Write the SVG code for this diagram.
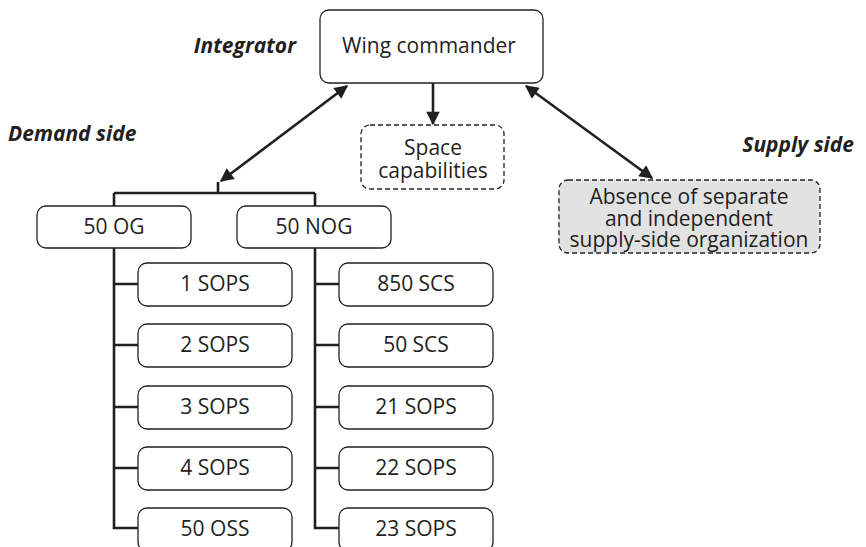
<svg xmlns="http://www.w3.org/2000/svg" width="866" height="547" viewBox="0 0 866 547">
<defs>
<marker id="ah" viewBox="0 0 10 10" refX="9" refY="5" markerWidth="6" markerHeight="5.2" markerUnits="strokeWidth" orient="auto-start-reverse">
<path d="M0,0 L10,5 L0,10 z" fill="#231f20"/>
</marker>
<style>
.box{fill:#fff;stroke:#231f20;stroke-width:1.3}
.dash{stroke-dasharray:5 3}
.gray{fill:#e2e2e2}
.t{font-family:"Open Sans","Noto Sans",sans-serif;font-size:21px;fill:#231f20;text-anchor:middle}
.lab{font-family:"Open Sans","Noto Sans",sans-serif;font-size:21px;font-weight:bold;font-style:italic;fill:#231f20}
.ln{stroke:#231f20;stroke-width:2.6;fill:none}
</style>
</defs>
<rect width="866" height="547" fill="#fff"/>
<g id="labels">
<text class="lab" x="296" y="53" text-anchor="end">Integrator</text>
<text class="lab" x="8" y="141">Demand side</text>
<text class="lab" x="854" y="152" text-anchor="end">Supply side</text>
</g>
<g id="connectors">
<line class="ln" x1="433" y1="83" x2="433" y2="124" marker-end="url(#ah)"/>
<line class="ln" x1="347" y1="86" x2="221" y2="181" marker-start="url(#ah)" marker-end="url(#ah)"/>
<line class="ln" x1="526" y1="86" x2="652" y2="178" marker-start="url(#ah)" marker-end="url(#ah)"/>
<path class="ln" d="M218,182 V193 M114,193 H315 M114,193 V528 H138 M315,193 V528 H339"/>
<path class="ln" d="M114,284 H138 M114,345 H138 M114,407 H138 M114,468 H138 M315,284 H339 M315,345 H339 M315,407 H339 M315,468 H339"/>
</g>
<g id="wing"><rect class="box" x="320" y="10" width="223" height="73" rx="9"/><text class="t" x="429" y="53" font-size="22.5">Wing commander</text></g>
<g id="space"><rect class="box dash" x="361" y="125" width="143" height="64" rx="9"/><text class="t" x="433" y="155">Space</text><text class="t" x="433" y="178">capabilities</text></g>
<g id="absence"><rect class="box dash gray" x="559" y="180" width="261" height="73" rx="9"/><text class="t" x="689" y="204">Absence of separate</text><text class="t" x="689" y="226">and independent</text><text class="t" x="689" y="247">supply-side organization</text></g>
<g id="og"><rect class="box" x="37" y="206" width="154" height="42" rx="9"/><text class="t" x="114" y="234">50 OG</text></g>
<g id="nog"><rect class="box" x="237" y="206" width="154" height="42" rx="9"/><text class="t" x="314" y="234">50 NOG</text></g>
<g id="sops1"><rect class="box" x="138" y="263" width="154" height="43" rx="9"/><text class="t" x="215" y="291">1 SOPS</text></g>
<g id="sops2"><rect class="box" x="138" y="324" width="154" height="43" rx="9"/><text class="t" x="215" y="352">2 SOPS</text></g>
<g id="sops3"><rect class="box" x="138" y="386" width="154" height="43" rx="9"/><text class="t" x="215" y="414">3 SOPS</text></g>
<g id="sops4"><rect class="box" x="138" y="447" width="154" height="43" rx="9"/><text class="t" x="215" y="475">4 SOPS</text></g>
<g id="oss50"><rect class="box" x="138" y="508" width="154" height="43" rx="9"/><text class="t" x="215" y="536">50 OSS</text></g>
<g id="scs850"><rect class="box" x="339" y="263" width="154" height="43" rx="9"/><text class="t" x="416" y="291">850 SCS</text></g>
<g id="scs50"><rect class="box" x="339" y="324" width="154" height="43" rx="9"/><text class="t" x="416" y="352">50 SCS</text></g>
<g id="sops21"><rect class="box" x="339" y="386" width="154" height="43" rx="9"/><text class="t" x="416" y="414">21 SOPS</text></g>
<g id="sops22"><rect class="box" x="339" y="447" width="154" height="43" rx="9"/><text class="t" x="416" y="475">22 SOPS</text></g>
<g id="sops23"><rect class="box" x="339" y="508" width="154" height="43" rx="9"/><text class="t" x="416" y="536">23 SOPS</text></g>
</svg>
